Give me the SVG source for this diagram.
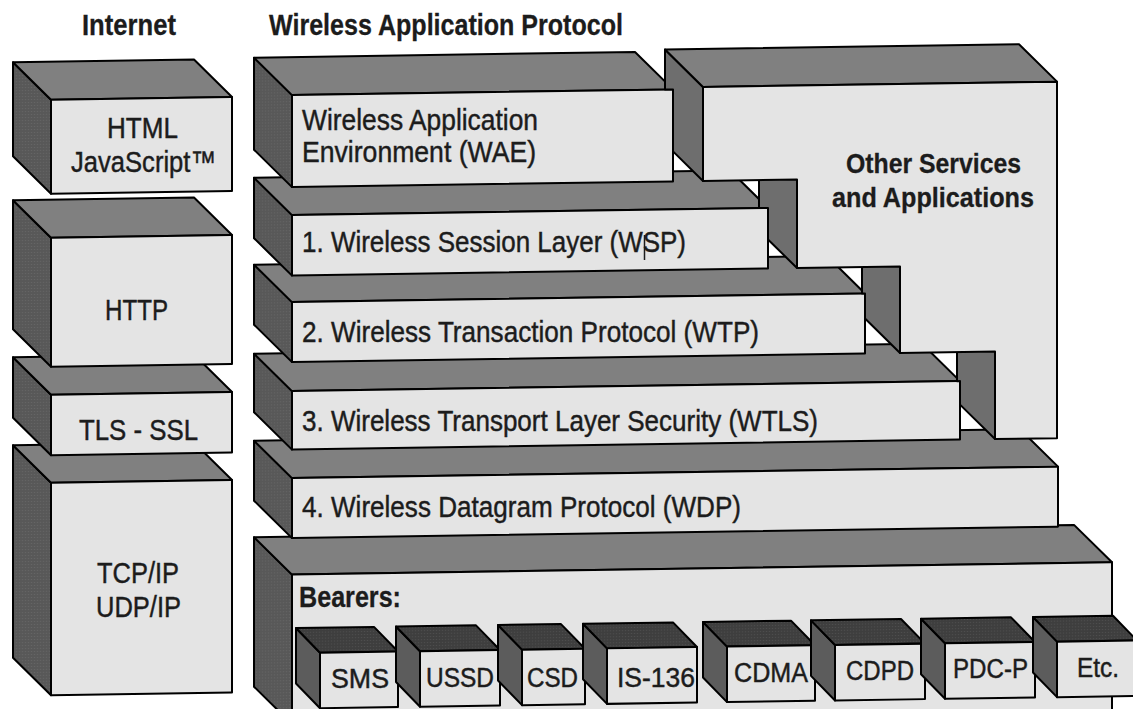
<svg xmlns="http://www.w3.org/2000/svg" width="1133" height="709" viewBox="0 0 1133 709">
<defs>
<pattern id="dots" width="3" height="3" patternUnits="userSpaceOnUse">
<rect width="3" height="3" fill="#585858"/>
<rect x="1" y="1" width="1" height="1" fill="#6c6c6c"/>
</pattern>
<pattern id="dotsDark" width="3" height="3" patternUnits="userSpaceOnUse">
<rect width="3" height="3" fill="#3e3e3e"/>
<rect x="1" y="1" width="1" height="1" fill="#555"/>
</pattern>
</defs>
<style>
.side{fill:url(#dots);stroke:#000;stroke-width:2;stroke-linejoin:round}
.top{fill:#808080;stroke:#000;stroke-width:2;stroke-linejoin:round}
.front{fill:#e4e4e4;stroke:#000;stroke-width:2;stroke-linejoin:round}
.strip{fill:#6e6e6e;stroke:#000;stroke-width:2;stroke-linejoin:round}
.stop{fill:url(#dotsDark);stroke:#000;stroke-width:2;stroke-linejoin:round}
.sside{fill:#5c5c5c;stroke:#000;stroke-width:2;stroke-linejoin:round}
text{font-family:"Liberation Sans Narrow","Liberation Sans",Arial,sans-serif;fill:#1c1c1c;font-size:30px;stroke:#1c1c1c;stroke-width:0.45px}
.b{font-weight:bold;stroke-width:0.3px}
.s{font-size:27px}
.os{font-size:28px}
.mark{stroke:#1c1c1c;stroke-width:1.5}
</style>
<rect width="1133" height="709" fill="#fff"/>

<g id="titles">
<text class="b" x="82" y="35" textLength="94" lengthAdjust="spacingAndGlyphs">Internet</text>
<text class="b" x="269" y="35" textLength="354" lengthAdjust="spacingAndGlyphs">Wireless Application Protocol</text>
</g>

<!-- Internet column -->
<g id="tcpip">
<g transform="translate(0,8.49) skewY(-0.859)">
<polygon class="side" points="13,437 51,475 51,687.5 13,649.5"/>
<polygon class="top" points="13,437 194,437 232,475 51,475"/>
<rect class="front" x="51" y="475" width="181" height="212.5"/>
</g>
<text x="97" y="583" textLength="82" lengthAdjust="spacingAndGlyphs">TCP/IP</text>
<text x="96" y="617" textLength="85" lengthAdjust="spacingAndGlyphs">UDP/IP</text>
</g>
<g id="tls">
<g transform="translate(0,8.49) skewY(-0.859)">
<polygon class="side" points="13,349 51,387 51,447.5 13,409.5"/>
<polygon class="top" points="13,349 194,349 232,387 51,387"/>
<rect class="front" x="51" y="387" width="181" height="60.5"/>
</g>
<text x="79" y="440" textLength="119" lengthAdjust="spacingAndGlyphs">TLS - SSL</text>
</g>
<g id="http">
<g transform="translate(0,8.49) skewY(-0.859)">
<polygon class="side" points="13,192 51,230 51,359 13,321"/>
<polygon class="top" points="13,192 194,192 232,230 51,230"/>
<rect class="front" x="51" y="230" width="181" height="129"/>
</g>
<text x="105" y="320" textLength="63" lengthAdjust="spacingAndGlyphs">HTTP</text>
</g>
<g id="html">
<g transform="translate(0,8.49) skewY(-0.859)">
<polygon class="side" points="13,54 51,92 51,186 13,148"/>
<polygon class="top" points="13,54 194,54 232,92 51,92"/>
<rect class="front" x="51" y="92" width="181" height="94"/>
</g>
<text x="107" y="138" textLength="71" lengthAdjust="spacingAndGlyphs">HTML</text>
<text x="71" y="172" textLength="145" lengthAdjust="spacingAndGlyphs">JavaScript™</text>
</g>

<!-- WAP column -->
<g id="bearers">
<g transform="translate(0,8.49) skewY(-0.859)">
<polygon class="side" points="254,532.5 292,570.5 292,720 254,682"/>
<polygon class="top" points="254,532.5 1074,532.5 1112,570.5 292,570.5"/>
<rect class="front" x="292" y="570.5" width="820" height="149.5"/>
</g>
<text class="b" x="299" y="607" textLength="102" lengthAdjust="spacingAndGlyphs">Bearers:</text>
</g>
<g id="sms">
<g transform="translate(0,8.49) skewY(-0.859)">
<polygon class="sside" points="296,624 320,649 320,704.5 296,679.5"/>
<polygon class="stop" points="296,624 374,624 398,649 320,649"/>
<rect class="front" x="320" y="649" width="78" height="55.5"/>
</g>
<text class="s" x="331" y="688" textLength="58" lengthAdjust="spacingAndGlyphs">SMS</text>
</g>
<g id="ussd">
<g transform="translate(0,8.49) skewY(-0.859)">
<polygon class="sside" points="396,624 420,649 420,704.5 396,679.5"/>
<polygon class="stop" points="396,624 476,624 500,649 420,649"/>
<rect class="front" x="420" y="649" width="80" height="55.5"/>
</g>
<text class="s" x="426" y="687" textLength="68" lengthAdjust="spacingAndGlyphs">USSD</text>
</g>
<g id="csd">
<g transform="translate(0,8.49) skewY(-0.859)">
<polygon class="sside" points="498,624 522,649 522,704.5 498,679.5"/>
<polygon class="stop" points="498,624 561,624 585,649 522,649"/>
<rect class="front" x="522" y="649" width="63" height="55.5"/>
</g>
<text class="s" x="527" y="687" textLength="51" lengthAdjust="spacingAndGlyphs">CSD</text>
</g>
<g id="is136">
<g transform="translate(0,8.49) skewY(-0.859)">
<polygon class="sside" points="583,624 607,649 607,704.5 583,679.5"/>
<polygon class="stop" points="583,624 673,624 697,649 607,649"/>
<rect class="front" x="607" y="649" width="90" height="55.5"/>
</g>
<text class="s" x="617" y="687" textLength="78" lengthAdjust="spacingAndGlyphs">IS-136</text>
</g>
<g id="cdma">
<g transform="translate(0,8.49) skewY(-0.859)">
<polygon class="sside" points="703,624 727,649 727,704.5 703,679.5"/>
<polygon class="stop" points="703,624 791,624 815,649 727,649"/>
<rect class="front" x="727" y="649" width="88" height="55.5"/>
</g>
<text class="s" x="734" y="682" textLength="74" lengthAdjust="spacingAndGlyphs">CDMA</text>
</g>
<g id="cdpd">
<g transform="translate(0,8.49) skewY(-0.859)">
<polygon class="sside" points="811,624 835,649 835,704.5 811,679.5"/>
<polygon class="stop" points="811,624 901,624 925,649 835,649"/>
<rect class="front" x="835" y="649" width="90" height="55.5"/>
</g>
<text class="s" x="846" y="680" textLength="68" lengthAdjust="spacingAndGlyphs">CDPD</text>
</g>
<g id="pdcp">
<g transform="translate(0,8.49) skewY(-0.859)">
<polygon class="sside" points="921,624 945,649 945,704.5 921,679.5"/>
<polygon class="stop" points="921,624 1011,624 1035,649 945,649"/>
<rect class="front" x="945" y="649" width="90" height="55.5"/>
</g>
<text class="s" x="953" y="678" textLength="75" lengthAdjust="spacingAndGlyphs">PDC-P</text>
</g>
<g id="etc">
<g transform="translate(0,8.49) skewY(-0.859)">
<polygon class="sside" points="1033,624 1057,649 1057,704.5 1033,679.5"/>
<polygon class="stop" points="1033,624 1113,624 1137,649 1057,649"/>
<rect class="front" x="1057" y="649" width="80" height="55.5"/>
</g>
<text class="s" x="1077" y="677" textLength="42" lengthAdjust="spacingAndGlyphs">Etc.</text>
</g>

<g id="wdp">
<g transform="translate(0,8.49) skewY(-0.859)">
<polygon class="side" points="254,436 292,474 292,534 254,496"/>
<polygon class="top" points="254,436 1020,436 1058,474 292,474"/>
<rect class="front" x="292" y="474" width="766" height="60"/>
</g>
<text x="302" y="517" textLength="439" lengthAdjust="spacingAndGlyphs">4. Wireless Datagram Protocol (WDP)</text>
</g>
<g id="wtls">
<g transform="translate(0,8.49) skewY(-0.859)">
<polygon class="side" points="254,349 292,387 292,445.5 254,407.5"/>
<polygon class="top" points="254,349 922,349 960,387 292,387"/>
<rect class="front" x="292" y="387" width="668" height="58.5"/>
</g>
<text x="302" y="431" textLength="516" lengthAdjust="spacingAndGlyphs">3. Wireless Transport Layer Security (WTLS)</text>
</g>
<g id="wtp">
<g transform="translate(0,8.49) skewY(-0.859)">
<polygon class="side" points="254,260 292,298 292,358 254,320"/>
<polygon class="top" points="254,260 827,260 865,298 292,298"/>
<rect class="front" x="292" y="298" width="573" height="60"/>
</g>
<text x="302" y="342" textLength="457" lengthAdjust="spacingAndGlyphs">2. Wireless Transaction Protocol (WTP)</text>
</g>
<g id="wsp">
<g transform="translate(0,8.49) skewY(-0.859)">
<polygon class="side" points="254,173 292,211 292,271.5 254,233.5"/>
<polygon class="top" points="254,173 730,173 768,211 292,211"/>
<rect class="front" x="292" y="211" width="476" height="60.5"/>
</g>
<text x="302" y="252" textLength="384" lengthAdjust="spacingAndGlyphs">1. Wireless Session Layer (WSP)</text>
<line class="mark" x1="644.5" y1="235" x2="644.5" y2="260"/>
</g>
<g id="wae">
<g transform="translate(0,8.49) skewY(-0.859)">
<polygon class="side" points="254,53 292,91 292,183 254,145"/>
<polygon class="top" points="254,53 635,53 673,91 292,91"/>
<rect class="front" x="292" y="91" width="381" height="92"/>
</g>
<text x="302" y="130" textLength="236" lengthAdjust="spacingAndGlyphs">Wireless Application</text>
<text x="302" y="162" textLength="234" lengthAdjust="spacingAndGlyphs">Environment (WAE)</text>
</g>

<g id="other-services">
<g transform="translate(0,8.49) skewY(-0.859)">
<polygon class="strip" points="665,51 703,89 703,183 673,153 673,91 665,91"/>
<polygon class="strip" points="759,145 797,183 797,271.5 768,242.5 768,211 759,211"/>
<polygon class="strip" points="862,233.5 900,271.5 900,358 865,323 865,298 862,298"/>
<polygon class="strip" points="957,320 995,358 995,445.5 960,410.5 960,387 957,387"/>
<polygon class="top" points="665,51 1019,51 1057,89 703,89"/>
<polygon class="front" points="703,89 1057,89 1057,445.5 995,445.5 995,358 900,358 900,271.5 797,271.5 797,183 703,183"/>
</g>
<text class="b os" x="846" y="173" textLength="175" lengthAdjust="spacingAndGlyphs">Other Services</text>
<text class="b os" x="832" y="207" textLength="202" lengthAdjust="spacingAndGlyphs">and Applications</text>
</g>
</svg>
